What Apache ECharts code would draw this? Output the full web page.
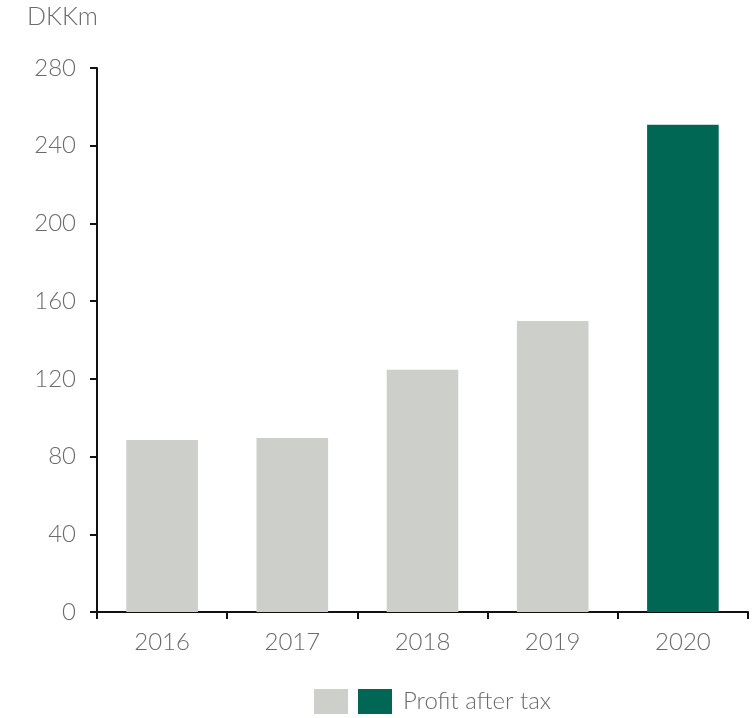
<!DOCTYPE html>
<html>
<head>
<meta charset="utf-8">
<script src="https://cdn.jsdelivr.net/npm/echarts@6/dist/echarts.min.js"></script>
<style>
  html, body { margin: 0; padding: 0; background: #fff; }
  #chart { width: 756px; height: 718px; }
</style>
</head>
<body>
<div id="chart"></div>
<script>
// Profit after tax, DKKm
const years = ['2016', '2017', '2018', '2019', '2020'];
const earlierProfit = [88.5, 89.6, 124.7, 149.8, '-'];
const latestProfit = ['-', '-', '-', '-', 250.8];
const yTicks = [0, 40, 80, 120, 160, 200, 240, 280];

const FONT = 'Lato, "Open Sans", sans-serif';
const TEXT = '#6b6b6b';

const chart = echarts.init(document.getElementById('chart'));
chart.setOption({
  animation: false,
  title: {
    text: 'DKKm',
    left: 27,
    top: 4,
    padding: 0,
    textStyle: { fontFamily: FONT, fontWeight: 300, fontSize: 25, color: TEXT }
  },
  legend: {
    top: 689,
    left: 314,
    padding: 0,
    icon: 'rect',
    itemWidth: 34,
    itemHeight: 25,
    itemGap: 10,
    data: ['Earlier years', 'Profit after tax'],
    formatter: name => (name === 'Profit after tax' ? name : ''),
    textStyle: { fontFamily: FONT, fontWeight: 300, fontSize: 24, color: TEXT, padding: [0, 0, 0, 6] }
  },
  grid: { left: 97, right: 8, top: 68, bottom: 106, containLabel: false },
  xAxis: {
    type: 'category',
    data: years,
    axisLine: { lineStyle: { color: '#111', width: 2 } },
    axisTick: { show: true, alignWithLabel: false, length: 7, lineStyle: { color: '#111', width: 2 } },
    axisLabel: { margin: 18, fontFamily: FONT, fontWeight: 300, fontSize: 24, color: TEXT }
  },
  yAxis: {
    type: 'value',
    min: yTicks[0],
    max: yTicks[yTicks.length - 1],
    interval: yTicks[1] - yTicks[0],
    splitLine: { show: false },
    axisLine: { show: true, lineStyle: { color: '#111', width: 2 } },
    axisTick: { show: true, length: 7, lineStyle: { color: '#111', width: 2 } },
    axisLabel: { margin: 21, fontFamily: FONT, fontWeight: 300, fontSize: 24, color: TEXT }
  },
  series: [
    {
      name: 'Earlier years',
      type: 'bar',
      stack: 'profit',
      barWidth: '55%',
      data: earlierProfit,
      itemStyle: { color: '#cdcfca' }
    },
    {
      name: 'Profit after tax',
      type: 'bar',
      stack: 'profit',
      barWidth: '55%',
      data: latestProfit,
      itemStyle: { color: '#006754' }
    }
  ]
});
</script>
</body>
</html>
